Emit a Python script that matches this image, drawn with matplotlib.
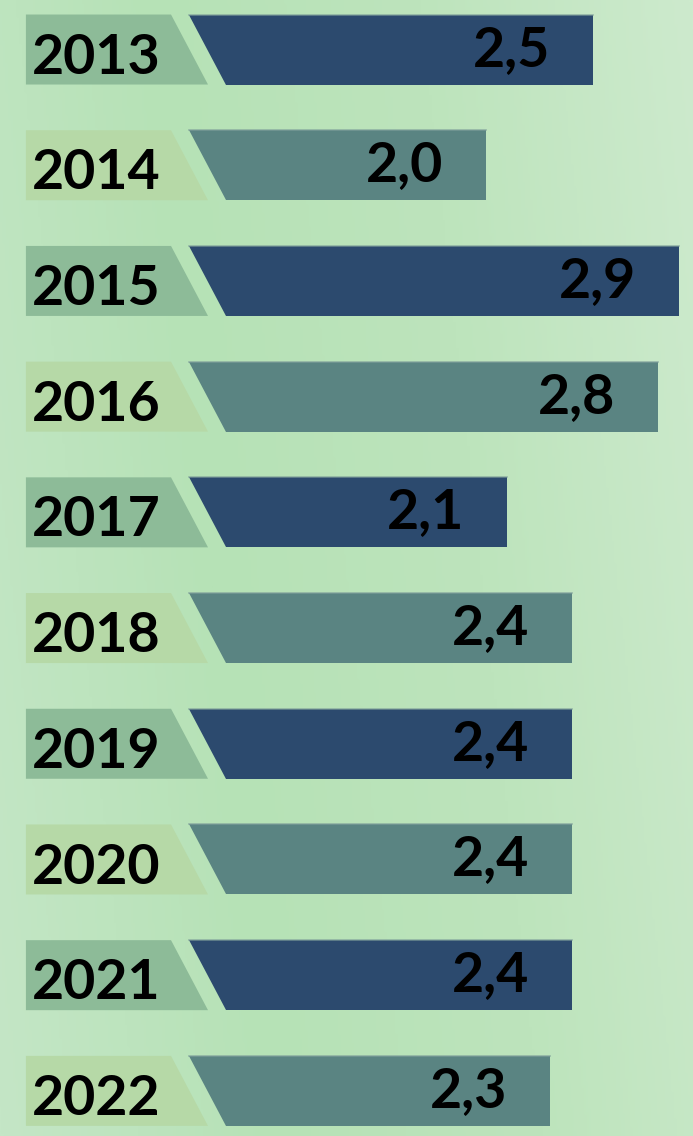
import numpy as np
import matplotlib
matplotlib.use("Agg")
import matplotlib.pyplot as plt
from matplotlib.colors import LinearSegmentedColormap

# ---- data ----
years = ["2013", "2014", "2015", "2016", "2017", "2018", "2019", "2020", "2021", "2022"]
values = [2.5, 2.0, 2.9, 2.8, 2.1, 2.4, 2.4, 2.4, 2.4, 2.3]
value_labels = ["2,5", "2,0", "2,9", "2,8", "2,1", "2,4", "2,4", "2,4", "2,4", "2,3"]

# ---- style ----
bar_colors = ["#2c4a6e", "#5a8482"]
tab_colors = ["#8dbb98", "#b6d9a7"]
font = "Lato"

W, H, DPI = 693, 1136, 100
fig = plt.figure(figsize=(W / DPI, H / DPI), dpi=DPI)

# background gradient
bg = fig.add_axes([0, 0, 1, 1])
bg.set_axis_off()
cmap = LinearSegmentedColormap.from_list("bg", ["#c4e6c6", "#b6e2b6", "#bde4bc", "#cdeacd"])
gx = np.linspace(0, 1, 256)
gy = np.linspace(0, 1, 256)
GX, GY = np.meshgrid(gx, gy)
grad = 0.85 * GX + 0.15 * (1 - GY)
bg.imshow(grad, cmap=cmap, aspect="auto", extent=[0, 1, 0, 1], vmin=0, vmax=1)

ax = fig.add_axes([0, 0, 1, 1])
ax.set_axis_off()
ax.patch.set_alpha(0)

# scales (value units on x, row index on y)
ax.set_xlim(-0.2605, 2.963)
ax.set_ylim(9.39, -0.428)

bar_h = 0.605
slant = 0.172
tab_left = -0.14
tab_right = 0.535
bar_start = 0.62

for i, (yr, v, lab) in enumerate(zip(years, values, value_labels)):
    top = i - bar_h / 2
    bot = i + bar_h / 2
    k = i % 2
    # label tab
    ax.fill([tab_left, tab_right, tab_right + slant, tab_left],
            [top, top, bot, bot], color=tab_colors[k], lw=0, zorder=2)
    # slanted bar
    ax.fill([bar_start, v, v, bar_start + slant],
            [top, top, bot, bot], color=bar_colors[k], lw=0, zorder=2)
    ax.plot([bar_start, v], [top, top], color="#7f9f9a", lw=1.2, zorder=3, alpha=0.7)
    ax.text(tab_left + 0.03, i + 0.07, yr, ha="left", va="center",
            fontsize=40, fontweight="bold", family=font, color="black", zorder=4)
    ax.text(v - 0.2, i + 0.0, lab, ha="right", va="center",
            fontsize=40, fontweight="bold", family=font, color="black", zorder=4)

fig.savefig("out.png", dpi=DPI)
